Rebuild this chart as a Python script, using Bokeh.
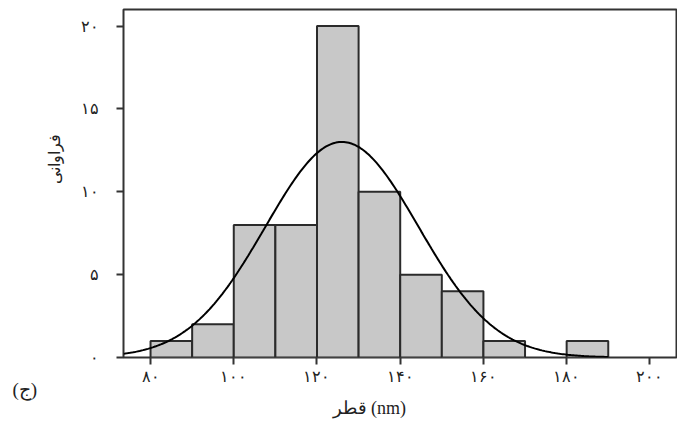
import numpy as np
from bokeh.plotting import figure
from bokeh.models import FixedTicker, Range1d, Title, ColumnDataSource
from bokeh.embed import file_html
from bokeh.resources import INLINE

# Data
bin_left = [80, 90, 100, 110, 120, 130, 140, 150, 160, 170, 180]
bin_width = 10
counts = [1, 2, 8, 8, 20, 10, 5, 4, 1, 0, 1]
fit_mean = 126.0   # normal fit parameters
fit_sd = 18.4
x_ticks = [80, 100, 120, 140, 160, 180, 200]
x_tick_labels = ["۸۰", "۱۰۰", "۱۲۰", "۱۴۰", "۱۶۰", "۱۸۰", "۲۰۰"]
y_ticks = [0, 5, 10, 15, 20]
y_tick_labels = ["۰", "۵", "۱۰", "۱۵", "۲۰"]
x_title = "قطر (nm)"
y_title = "فراوانی"
panel_tag = "(ج)"

p = figure(width=677, height=426, output_backend="svg", toolbar_location=None,
           x_range=Range1d(73.5, 206.4), y_range=Range1d(0, 21))
p.min_border_left = 123
p.min_border_right = 1
p.min_border_top = 9
p.min_border_bottom = 69
p.grid.visible = False
p.outline_line_color = "#333333"
p.outline_line_width = 2
p.background_fill_color = "white"
p.border_fill_color = "white"

left = [l for l, c in zip(bin_left, counts) if c > 0]
right = [l + bin_width for l, c in zip(bin_left, counts) if c > 0]
top = [c for c in counts if c > 0]
src = ColumnDataSource(dict(left=left, right=right, top=top, bottom=[0] * len(top)))
p.quad(left="left", right="right", top="top", bottom="bottom", source=src,
       fill_color="#c8c8c8", line_color="#2b2b2b", line_width=2)

n_total = sum(counts)
xs = np.linspace(73.5, 190, 300)
ys = n_total * bin_width * np.exp(-0.5 * ((xs - fit_mean) / fit_sd) ** 2) / (fit_sd * np.sqrt(2 * np.pi))
p.line(xs, ys, line_color="black", line_width=2)

for ax in (p.xaxis[0], p.yaxis[0]):
    ax.axis_line_color = None
    ax.major_tick_in = 0
    ax.major_tick_out = 7
    ax.major_tick_line_color = "#333333"
    ax.major_tick_line_width = 2
    ax.minor_tick_line_color = None
    ax.major_label_text_font = "Liberation Serif"
    ax.major_label_text_font_size = "16px"
    ax.major_label_text_color = "#222222"

p.xaxis[0].ticker = FixedTicker(ticks=x_ticks)
p.xaxis[0].major_label_overrides = {t: s for t, s in zip(x_ticks, x_tick_labels)}
p.xaxis[0].major_label_standoff = 3
p.yaxis[0].ticker = FixedTicker(ticks=y_ticks)
p.yaxis[0].major_label_overrides = {t: s for t, s in zip(y_ticks, y_tick_labels)}
p.yaxis[0].major_label_standoff = 18

tag = Title(text=panel_tag, align="left", offset=-111, standoff=-18, vertical_align="top",
            text_font="Liberation Serif", text_font_size="19px", text_font_style="normal",
            text_color="#222222")
p.add_layout(tag, "below")
xt = Title(text=x_title, align="left", offset=209, standoff=10, vertical_align="top",
           text_font="Liberation Serif", text_font_size="18px", text_font_style="normal",
           text_color="#222222")
p.add_layout(xt, "below")
yt = Title(text=y_title, align="left", offset=174, standoff=29, vertical_align="bottom",
           text_font="Liberation Serif", text_font_size="16px", text_font_style="normal",
           text_color="#222222")
p.add_layout(yt, "left")

open("out.html", "w").write(file_html(p, INLINE))
